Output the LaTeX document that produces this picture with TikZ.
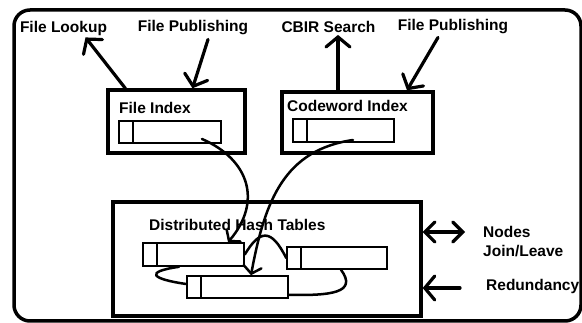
\documentclass[tikz,border=0pt]{standalone}
\usepackage{fontspec}
\setmainfont{Liberation Sans}
\usetikzlibrary{arrows.meta}
\begin{document}
\begin{tikzpicture}[x=1pt,y=-1pt,
  lbl/.style={font=\bfseries\fontsize{15.5}{19.5}\selectfont, inner sep=0pt, text=black},
  box/.style n args={2}{draw, line width=3.4pt, minimum width=#1, minimum height=#2, inner sep=0pt},
  bar/.style n args={2}{draw, line width=1.6pt, fill=white, minimum width=#1, minimum height=#2, inner sep=0pt,
    path picture={\draw[line width=1.6pt] ([xshift=14pt]path picture bounding box.north west) -- ([xshift=14pt]path picture bounding box.south west);}},
  arr/.style={line width=3.2pt, line cap=round, -{Straight Barb[length=10pt,width=24pt,line cap=round]}},
  darr/.style={line width=3.2pt, line cap=round, {Straight Barb[length=10pt,width=20pt,line cap=round]}-{Straight Barb[length=10pt,width=20pt,line cap=round]}},
  link/.style={line width=2.5pt, line cap=round},
  larr/.style={line width=2.5pt, line cap=round, -{Straight Barb[length=7pt,width=18pt,line cap=round]}}]
\useasboundingbox (0,0) rectangle (582,323);
% outer frame
\draw[line width=3.5pt, rounded corners=16pt] (14,10) rectangle (581,321);

% top labels
\node[lbl] (lookup) at (63.5,28) {File Lookup};
\node[lbl] (pub1) at (193,28) {File Publishing};
\node[lbl] (cbir) at (328.5,27) {CBIR Search};
\node[lbl] (pub2) at (453,27) {File Publishing};

% index boxes
\node[box={137pt}{63pt}] (fidx) at (176.5,121.5) {};
\node[lbl, anchor=west] (fidxt) at (119,108) {File Index};
\node[bar={102pt}{22pt}] (fbar) at (170,132) {};

\node[box={151pt}{61pt}] (cidx) at (357.5,122.5) {};
\node[lbl, anchor=west] (cidxt) at (287,106) {Codeword Index};
\node[bar={101pt}{23pt}] (cbar) at (343.5,130.5) {};

% DHT box
\node[box={308pt}{114pt}] (dht) at (267,259) {};
\node[lbl, anchor=west] (dhtt) at (149,225) {Distributed Hash Tables};
\node[bar={101pt}{23pt}] (b1) at (193.5,254.5) {};
\node[bar={100pt}{22pt}] (b2) at (337,258) {};
\node[bar={101pt}{22pt}] (b3) at (237.5,287) {};

% right labels
\node[lbl, anchor=west, align=left] (nodes) at (483,241.5) {Nodes\\Join/Leave};
\node[lbl, anchor=west] (red) at (486,286) {Redundancy};

% top arrows
\draw[arr] ([xshift=19pt]fidx.north west) -- ([xshift=22pt,yshift=-2pt]lookup.south);
\draw[arr] ([xshift=15pt,yshift=-4pt]pub1.south) -- ([xshift=16pt]fidx.north);
\draw[arr] ([xshift=-19.5pt]cidx.north) -- ([xshift=9.5pt,yshift=-2pt]cbir.south);
\draw[arr] ([xshift=-15pt,yshift=-3pt]pub2.south) -- ([xshift=49.5pt]cidx.north);

% right arrows
\draw[darr] ([yshift=27pt]dht.east) -- ([xshift=-18pt,yshift=9.5pt]nodes.west);
\draw[arr] ([xshift=-26pt,yshift=-2pt]red.west) -- ([yshift=-29pt]dht.east);

% index to DHT
\draw[larr] ([xshift=32pt,yshift=-7pt]fbar.center) .. controls +(48,21) and +(34,-40) .. ([xshift=34.5pt]b1.north);
\draw[larr] ([xshift=9.5pt,yshift=-9.5pt]cbar.center) .. controls +(-68,10) and +(14,-76) .. ([xshift=13.5pt]b3.north);

% links among DHT bars
\draw[link] (b1.east) .. controls +(15,-25) and +(-15,-30) .. (b2.west);
\draw[link] ([xshift=-14.5pt]b1.south) .. controls +(-35,5) and +(-35,-5) .. ([yshift=3pt]b3.west);
\draw[link] ([xshift=4pt]b2.south) .. controls +(17,23) and +(42,1) .. ([yshift=4pt]b3.south east);
\end{tikzpicture}
\end{document}
